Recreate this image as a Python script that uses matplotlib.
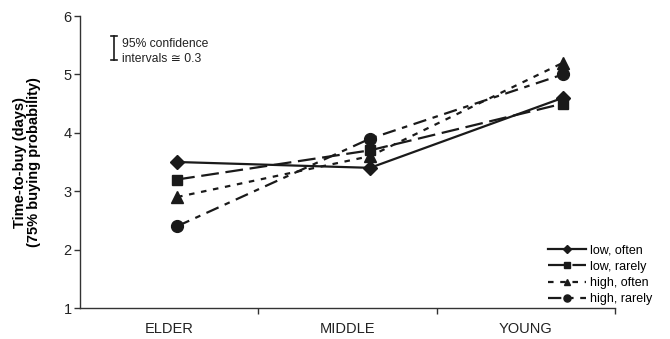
import matplotlib
matplotlib.use("Agg")
import matplotlib.pyplot as plt
import numpy as np

plt.rcParams['font.family'] = ['Liberation Sans', 'DejaVu Sans']

categories = ["ELDER", "MIDDLE", "YOUNG"]
low_often = [3.5, 3.4, 4.6]
low_rarely = [3.2, 3.7, 4.5]
high_often = [2.9, 3.6, 5.2]
high_rarely = [2.4, 3.9, 5.0]
series_labels = ["low, often", "low, rarely", "high, often", "high, rarely"]
yticks = [1, 2, 3, 4, 5, 6]

fig = plt.figure(figsize=(6.7, 3.39), dpi=100)
ax = fig.add_axes([80/670, 1-308/339, 535/670, 292/339])
ax.set_xlim(-0.5, 2.5)
ax.set_ylim(1, 6)
ax.set_yticks(yticks)
ax.set_xticks(np.arange(len(categories)))
ax.set_xticklabels(categories, fontsize=10.5, color='#222222')
ax.set_xticks(np.arange(len(categories)) + 0.5, minor=True)
ax.tick_params(axis='x', which='major', length=0, pad=10)
ax.tick_params(axis='x', which='minor', length=4, direction='out', width=1, color='#333333')
ax.tick_params(axis='y', length=4, direction='out', width=1, pad=2, labelsize=10.5, color='#333333', labelcolor='#222222')
for s in ['top', 'right']:
    ax.spines[s].set_visible(False)
for s in ['left', 'bottom']:
    ax.spines[s].set_color('#333333')
    ax.spines[s].set_linewidth(1)
ax.set_ylabel("Time-to-buy (days)\n(75% buying probability)", fontsize=10.5, fontweight='bold', labelpad=16, linespacing=1.05)

# data axis (Excel-like offset of plotted points)
ax2 = ax.twiny()
ax2.set_xlim(-0.503, 2.269)
ax2.set_ylim(1, 6)
ax2.axis('off')
x = np.arange(len(categories))
c = '#1a1a1a'
lw = 1.6
h1, = ax2.plot(x, low_often, color=c, lw=lw, ls='-', marker='D', ms=7)
h2, = ax2.plot(x, low_rarely, color=c, lw=lw, ls=(0, (8, 3)), marker='s', ms=7.5)
h3, = ax2.plot(x, high_often, color=c, lw=lw, ls=(0, (2.5, 3)), marker='^', ms=8)
h4, = ax2.plot(x, high_rarely, color=c, lw=lw, ls=(0, (6, 3, 2.5, 3)), marker='o', ms=8.5)

leg = fig.legend([h1, h2, h3, h4], series_labels, loc='upper left',
                 bbox_to_anchor=(542/670, 1-238/339), frameon=False, fontsize=9,
                 handlelength=3.0, handletextpad=0.3, labelspacing=0.35, borderpad=0, markerscale=0.6)

# confidence interval annotation
fig.add_artist(plt.Line2D([114/670, 114/670], [1-36/339, 1-60/339], color=c, lw=1.2))
fig.add_artist(plt.Line2D([111/670, 117/670], [1-36/339, 1-36/339], color=c, lw=1.2))
fig.add_artist(plt.Line2D([111/670, 117/670], [1-60/339, 1-60/339], color=c, lw=1.2))
fig.text(122/670, 1-47/339, "95% confidence", fontsize=8.7, va='baseline', color='#222222')
fig.text(122/670, 1-62/339, "intervals \u2245 0.3", fontsize=8.7, va='baseline', color='#222222')

fig.savefig("out.png", dpi=100)
